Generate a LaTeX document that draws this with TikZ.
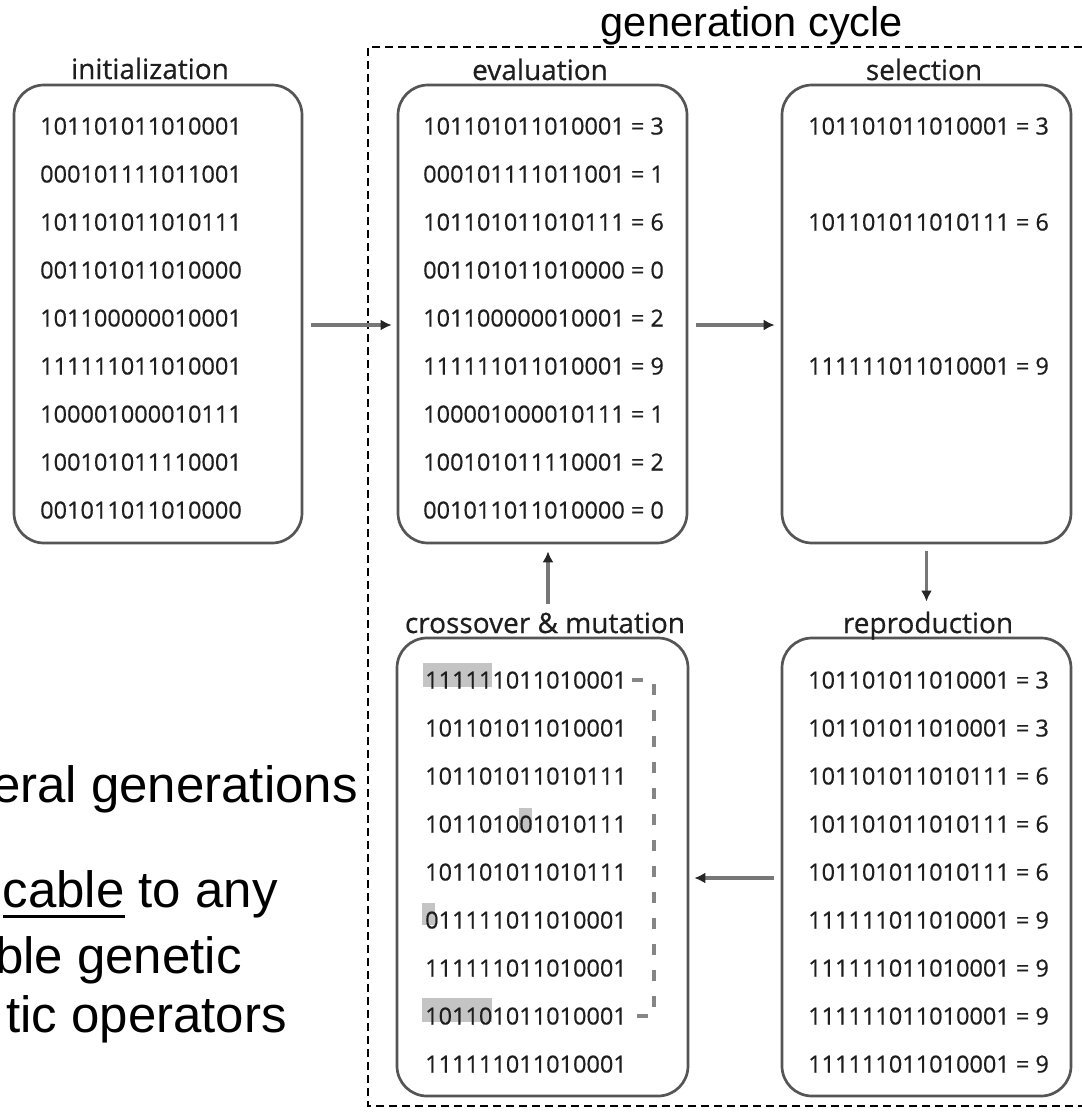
\documentclass[tikz,border=0pt]{standalone}
\usepackage{fontspec}
\setmainfont[FakeBold=0.6]{Open Sans}
\newfontfamily\arialfont{Liberation Sans}
\usetikzlibrary{arrows.meta,calc}
\definecolor{txt}{HTML}{1E1E1E}
\definecolor{boxline}{HTML}{555555}
\definecolor{arrowline}{HTML}{777777}
\definecolor{hl}{HTML}{C4C4C4}
\definecolor{bracket}{HTML}{858585}
% underlined word with a heavy rule
\newcommand\ulword[1]{\setbox0\hbox{#1}\rlap{\rule[-11pt]{\wd0}{3pt}}#1}

\begin{document}
\begin{tikzpicture}[x=1pt,y=-1pt,
  gbox/.style={draw=boxline, line width=2.7pt, rounded corners=30pt, inner sep=0pt},
  title/.style={font=\fontsize{28}{30}\selectfont, text=txt, anchor=base, inner sep=0pt},
  row/.style={font=\fontsize{23.5}{26}\selectfont, text=txt, anchor=base west, inner sep=0pt},
  flow/.style={draw=arrowline, line width=3.3pt, -{Latex[length=11pt,width=11pt,color=black!85]}},
  slide/.style={font=\arialfont\fontsize{51}{60}\selectfont, anchor=base east, inner sep=0pt},
  cycleframe/.style={draw=black, line width=1.6pt, dash pattern=on 8pt off 5pt},
]
\useasboundingbox (0,0) rectangle (1082,1120);

% dashed frame around the generation cycle (open to the right)
\draw[cycleframe] (1082,47) -- (368,47) -- (368,1106) -- (1082,1106);
\node[font=\arialfont\fontsize{41.5}{44}\selectfont, anchor=base, inner sep=0pt] (cycle) at (752,36) {generation cycle};

% population boxes
\node[gbox, minimum width=288pt, minimum height=458pt] (init)  at (158,314)   {};
\node[gbox, minimum width=289pt, minimum height=458pt] (eval)  at (542.5,314) {};
\node[gbox, minimum width=289pt, minimum height=458pt] (sel)   at (926.5,314) {};
\node[gbox, minimum width=291pt, minimum height=458pt] (cross) at (542.5,867) {};
\node[gbox, minimum width=289pt, minimum height=458pt] (repro) at (926.5,867) {};

% box titles
\node[title] (initT)  at (150,79)  {initialization};
\node[title] (evalT)  at (540,80)  {evaluation};
\node[title] (selT)   at (924,80)  {selection};
\node[title] (crossT) at (545,633) {crossover \& mutation};
\node[title] (reproT) at (928,633) {reproduction};

% changed bits after crossover and mutation
\fill[hl] (423,663) rectangle (492,687);
\fill[hl] (519,808) rectangle (532,830);
\fill[hl] (422,903) rectangle (435,925);
\fill[hl] (422,998) rectangle (492,1022);

% initial population
\foreach \s [count=\n] in {101101011010001,000101111011001,101101011010111,
  001101011010000,101100000010001,111111011010001,100001000010111,
  100101011110001,001011011010000}
  \node[row] (i\n) at (40,{134.5+48*(\n-1)}) {\s};

% evaluated population
\foreach \s/\v [count=\n] in {101101011010001/3,000101111011001/1,101101011010111/6,
  001101011010000/0,101100000010001/2,111111011010001/9,100001000010111/1,
  100101011110001/2,001011011010000/0}
  \node[row] (e\n) at (423,{134.5+48*(\n-1)}) {\s{} = \v};

% selected individuals
\node[row] (s1) at (808,134.5) {101101011010001 = 3};
\node[row] (s3) at (808,230.5) {101101011010111 = 6};
\node[row] (s6) at (808,374.5) {111111011010001 = 9};

% offspring after crossover and mutation
\foreach \s [count=\n] in {111111011010001,101101011010001,101101011010111,
  101101001010111,101101011010111,011111011010001,111111011010001,
  101101011010001,111111011010001}
  \node[row] (c\n) at (425,{688.5+48*(\n-1)}) {\s};

% reproduced population
\foreach \s/\v [count=\n] in {101101011010001/3,101101011010001/3,101101011010111/6,
  101101011010111/6,101101011010111/6,111111011010001/9,111111011010001/9,
  111111011010001/9,111111011010001/9}
  \node[row] (r\n) at (808,{688.5+48*(\n-1)}) {\s{} = \v};

% crossover pairing bracket
\draw[bracket, line width=3.3pt, dash pattern=on 11pt off 15pt]
  ([xshift=5pt]c1.east) -- ([xshift=27pt]c1.east) |- ([xshift=5pt]c8.east);

% flow of the cycle
\draw[flow, shorten <=8pt, shorten >=5pt] ([yshift=-11pt]init.east) -- ([yshift=-11pt]eval.west);
\draw[flow, shorten <=8pt, shorten >=6pt] ([yshift=-11pt]eval.east) -- ([yshift=-11pt]sel.west);
\draw[flow, shorten <=7pt, shorten >=10pt] (sel.south) -- (sel.south |- reproT.north);
\draw[flow, shorten <=7pt, shorten >=5pt] ([yshift=-11pt]repro.west) -- ([yshift=-11pt]cross.east);
\draw[flow, shorten <=8pt, shorten >=7pt] ([xshift=3pt]crossT.north) -- ([xshift=3pt]crossT.north |- eval.south);

% slide text running in from the left
\node[slide] (t1) at (358,802)  {eral generations};
\node[slide] (t2) at (278,907)  {\ulword{cable} to any};
\node[slide] (t3) at (242,973)  {ble genetic};
\node[slide] (t4) at (287,1032) {tic operators};
\end{tikzpicture}
\end{document}
